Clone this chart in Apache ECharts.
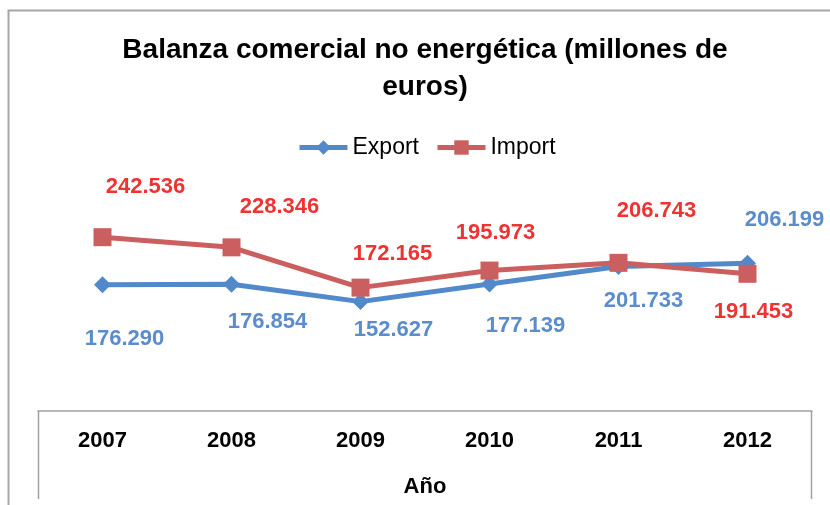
<!DOCTYPE html>
<html>
<head>
<meta charset="utf-8">
<script src="https://cdn.jsdelivr.net/npm/echarts@6/dist/echarts.min.js"></script>
<style>
  html, body { margin: 0; padding: 0; background: #fff; }
  #chart { width: 830px; height: 505px; }
</style>
</head>
<body>
<div id="chart"></div>
<script>
// ---- data ----
var years = ['2007', '2008', '2009', '2010', '2011', '2012'];
var exportVals = [176290, 176854, 152627, 177139, 201733, 206199];
var importVals = [242536, 228346, 172165, 195973, 206743, 191453];
var titleText = 'Balanza comercial no energética (millones de\neuros)';
var xName = 'Año';

// label placement (offsets from each point, in px)
var exportLabelOffsets = [[22, 54], [36, 38], [33, 28], [36, 42], [25, 35], [37, -43]];
var importLabelOffsets = [[43, -50], [48, -40], [32, -34], [6, -38], [38, -52], [6, 38]];

var FONT = "'Liberation Sans', Arial, sans-serif";
var blueLine = '#5189CB', redLine = '#CB5F5F';
var blueText = '#5B8CCB', redText = '#EE3333';

function fmt(p) { return (p.value / 1000).toFixed(3); }

function items(vals, offs) {
  return vals.map(function (v, i) {
    return { value: v, label: { offset: offs[i] } };
  });
}

var chart = echarts.init(document.getElementById('chart'), null, { renderer: 'canvas' });
chart.setOption({
  backgroundColor: '#ffffff',
  animation: false,
  textStyle: { fontFamily: FONT },
  graphic: [
    { type: 'polyline', shape: { points: [[8.5, 505], [8.5, 10.5], [830, 10.5]] },
      style: { stroke: '#A6A6A6', lineWidth: 2, fill: null }, silent: true },
    { type: 'line', shape: { x1: 38.5, y1: 411, x2: 38.5, y2: 499 },
      style: { stroke: '#A0A0A0', lineWidth: 1.5 }, silent: true },
    { type: 'line', shape: { x1: 811.5, y1: 411, x2: 811.5, y2: 499 },
      style: { stroke: '#A0A0A0', lineWidth: 1.5 }, silent: true },
    { type: 'text', x: 425, y: 69, silent: true,
      style: { text: titleText, font: 'bold 28px ' + FONT, fill: '#000',
               textAlign: 'center', textVerticalAlign: 'middle', lineHeight: 37 } }
  ],
  legend: {
    left: 292, top: 131,
    itemWidth: 48, itemHeight: 18, itemGap: 16,
    lineStyle: { width: 5 },
    textStyle: { fontSize: 23, color: '#000', fontFamily: FONT },
    data: ['Export', 'Import']
  },
  grid: { left: 38, right: 18, top: 196, bottom: 94 },
  xAxis: {
    type: 'category',
    data: years,
    boundaryGap: true,
    axisLine: { lineStyle: { color: '#A0A0A0', width: 1.5 } },
    axisTick: { show: false },
    axisLabel: { fontSize: 22, fontWeight: 'bold', color: '#000', margin: 19, fontFamily: FONT },
    name: xName,
    nameLocation: 'middle',
    nameGap: 65,
    nameTextStyle: { fontSize: 22, fontWeight: 'bold', color: '#000', fontFamily: FONT }
  },
  yAxis: {
    type: 'value', min: 0, max: 300000, show: false,
    splitLine: { show: false }
  },
  series: [
    {
      name: 'Export', type: 'line',
      data: items(exportVals, exportLabelOffsets),
      symbol: 'diamond', symbolSize: 17,
      itemStyle: { color: blueLine },
      lineStyle: { color: blueLine, width: 5 },
      label: { show: true, position: 'inside', formatter: fmt,
               fontSize: 22, fontWeight: 'bold', color: blueText, fontFamily: FONT,
               align: 'center', verticalAlign: 'middle' }
    },
    {
      name: 'Import', type: 'line',
      data: items(importVals, importLabelOffsets),
      symbol: 'rect', symbolSize: 18,
      itemStyle: { color: redLine },
      lineStyle: { color: redLine, width: 5 },
      label: { show: true, position: 'inside', formatter: fmt,
               fontSize: 22, fontWeight: 'bold', color: redText, fontFamily: FONT,
               align: 'center', verticalAlign: 'middle' }
    }
  ]
});
</script>
</body>
</html>
